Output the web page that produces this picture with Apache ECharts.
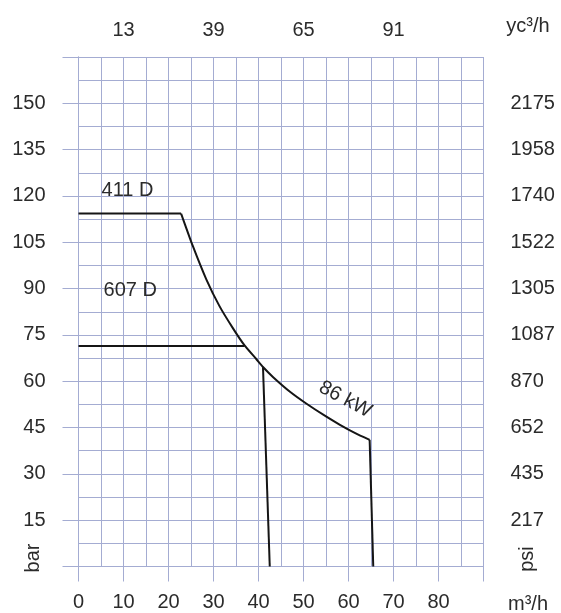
<!DOCTYPE html>
<html lang="en">
<head>
<meta charset="utf-8">
<title>86 kW</title>
<script src="https://cdn.jsdelivr.net/npm/echarts@6/dist/echarts.min.js"></script>
<style>
    html, body { margin: 0; background: #fff; }
    #main { width: 561px; height: 613px; }
</style>
</head>
<body>
<div id="main"></div>
<script type="text/javascript">
    // flow m3/h vs pressure bar
    var line411 = [[0, 114.3], [22.8, 114.3]];
    var line607 = [[0, 71.4], [36.9, 71.4]];
    var drop607 = [[41.0, 64.5], [42.5, 0]];
    var curve86 = [[22.8, 114.3], [25.4, 103.8], [28.4, 93.0], [31.3, 84.4], [34.3, 77.2],
        [36.9, 71.6], [39.5, 67.2], [41.0, 64.6], [43.2, 61.4], [47.0, 56.6], [50.6, 52.8],
        [55.0, 48.6], [58.1, 45.9], [61.5, 43.2], [64.7, 41.0]];
    var drop86 = [[64.7, 41.0], [65.5, 0]];

    var topTickVals = [10, 30, 50, 70];
    var topTickText = ['13', '39', '65', '91'];
    var barTicks = [15, 30, 45, 60, 75, 90, 105, 120, 135, 150];
    var psiTicks = ['217', '435', '652', '870', '1087', '1305', '1522', '1740', '1958', '2175'];
    var notes = [[10.9, 121.9, '411 D', 0], [11.5, 89.5, '607 D', 0], [59.3, 54.1, '86 kW', -28]];

    var gridColor = '#a4acd2';
    var textColor = '#2b2b2b';
    var font = 'Liberation Sans, Arial, sans-serif';

    var myChart = echarts.init(document.getElementById('main'));

    function curve(name, data) {
        return {
            name: name, type: 'line', data: data, showSymbol: false,
            smooth: name === '86 kW' ? 0.2 : false,
            lineStyle: {color: '#151515', width: 2}, z: 5, silent: true
        };
    }

    var option = {
        animation: false,
        backgroundColor: '#fff',
        grid: {left: 78.5, right: 77.5, top: 57, bottom: 46.5},
        xAxis: [
            {
                type: 'value', min: 0, max: 90, interval: 10, position: 'bottom',
                axisLine: {show: true, lineStyle: {color: gridColor, width: 1}},
                axisTick: {show: true, length: 15, lineStyle: {color: gridColor}},
                axisLabel: {
                    margin: 26, fontSize: 20, color: textColor, fontFamily: font,
                    formatter: function (v) { return v >= 90 ? '' : String(v); }
                },
                splitLine: {show: true, lineStyle: {color: gridColor, width: 1}},
                minorTick: {show: false, splitNumber: 2},
                minorSplitLine: {show: true, lineStyle: {color: gridColor, width: 1}}
            },
            {
                type: 'value', min: 0, max: 90, interval: 10, position: 'top',
                axisLine: {show: true, lineStyle: {color: gridColor, width: 1}},
                axisTick: {show: true, length: 15, lineStyle: {color: gridColor}},
                axisLabel: {
                    margin: 17, fontSize: 20, color: textColor, fontFamily: font,
                    formatter: function (v) {
                        var i = topTickVals.indexOf(v);
                        return i < 0 ? '' : topTickText[i];
                    }
                },
                splitLine: {show: false}
            }
        ],
        yAxis: [
            {
                type: 'value', min: 0, max: 165, interval: 15, position: 'left',
                axisLine: {show: true, lineStyle: {color: gridColor, width: 1}},
                axisTick: {show: true, length: 16, lineStyle: {color: gridColor}},
                axisLabel: {
                    margin: 33, fontSize: 20, color: textColor, fontFamily: font, padding: [0, 0, 6, 0],
                    formatter: function (v) { return barTicks.indexOf(v) < 0 ? '' : String(v); }
                },
                splitLine: {show: true, lineStyle: {color: gridColor, width: 1}},
                minorTick: {show: false, splitNumber: 2},
                minorSplitLine: {show: true, lineStyle: {color: gridColor, width: 1}}
            },
            {
                type: 'value', min: 0, max: 165, interval: 15, position: 'right',
                axisLine: {show: true, lineStyle: {color: gridColor, width: 1}},
                axisTick: {show: true, length: 15, lineStyle: {color: gridColor}},
                axisLabel: {
                    margin: 27, fontSize: 20, color: textColor, fontFamily: font, padding: [0, 0, 2, 0],
                    formatter: function (v) {
                        var i = barTicks.indexOf(v);
                        return i < 0 ? '' : psiTicks[i];
                    }
                },
                splitLine: {show: false}
            }
        ],
        graphic: [
            {type: 'text', x: 528, y: 604, style: {text: 'm³/h', fontSize: 20, fill: textColor, fontFamily: font, align: 'center', verticalAlign: 'middle'}},
            {type: 'text', x: 528, y: 26, style: {text: 'yc³/h', fontSize: 20, fill: textColor, fontFamily: font, align: 'center', verticalAlign: 'middle'}},
            {type: 'text', x: 33, y: 558, rotation: Math.PI / 2, style: {text: 'bar', fontSize: 20, fill: textColor, fontFamily: font, align: 'center', verticalAlign: 'middle'}},
            {type: 'text', x: 527, y: 559, rotation: Math.PI / 2, style: {text: 'psi', fontSize: 20, fill: textColor, fontFamily: font, align: 'center', verticalAlign: 'middle'}}
        ],
        series: [
            curve('411 D', line411),
            curve('607 D', line607),
            curve('607 D drop', drop607),
            curve('86 kW', curve86),
            curve('86 kW drop', drop86),
            {
                name: 'notes', type: 'scatter', symbolSize: 0, silent: true, z: 6,
                itemStyle: {opacity: 1},
                data: notes.map(function (n) {
                    return {value: [n[0], n[1]], name: n[2], label: {rotate: n[3]}};
                }),
                label: {
                    show: true, position: 'inside', fontSize: 20, color: textColor, fontFamily: font,
                    opacity: 1, textBorderWidth: 0,
                    formatter: function (p) { return p.name; }
                }
            }
        ]
    };

    myChart.setOption(option);
</script>
</body>
</html>
